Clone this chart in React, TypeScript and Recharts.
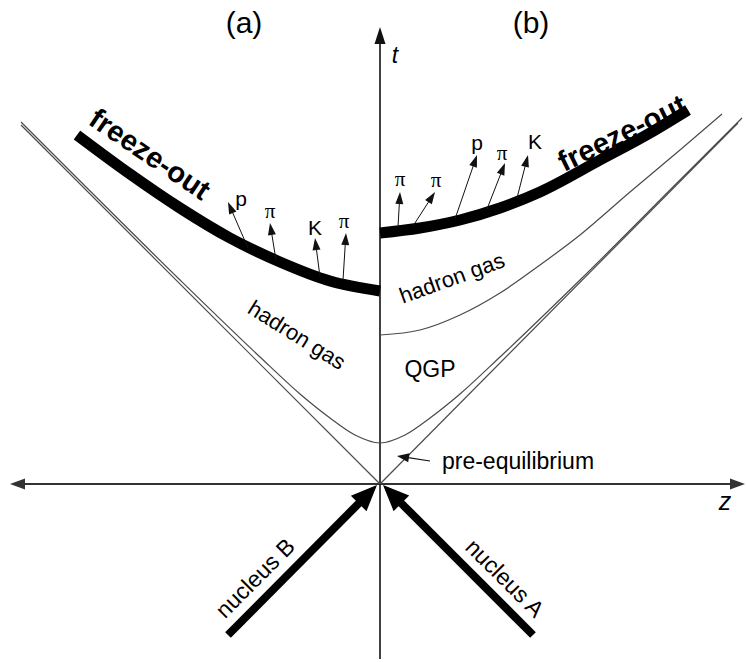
import React from "react";
import { LineChart, Line, XAxis, YAxis, ReferenceLine, ReferenceDot } from "recharts";

// space-time coordinates: z along the beam, t upward, collision at the origin

const lightConeA = [
  { z: -359, t: 359 },
  { z: 0, t: 0 },
];
const lightConeB = [
  { z: 0, t: 0 },
  { z: 358, t: 361 },
];

// proper time tau0 (end of pre-equilibrium)
const formationCurve = [
  { z: -359, t: 362 },
  { z: -300, t: 303 },
  { z: -200, t: 204 },
  { z: -120, t: 127 },
  { z: -80, t: 90 },
  { z: -50, t: 66 },
  { z: -25, t: 49 },
  { z: 0, t: 41 },
  { z: 25, t: 49 },
  { z: 50, t: 66 },
  { z: 80, t: 90 },
  { z: 120, t: 127 },
  { z: 200, t: 204 },
  { z: 300, t: 304 },
  { z: 362, t: 366 },
];

// QGP -> hadron gas boundary, panel (b)
const hadronizationB = [
  { z: 0, t: 149 },
  { z: 40, t: 154 },
  { z: 80, t: 169 },
  { z: 120, t: 191 },
  { z: 160, t: 219 },
  { z: 200, t: 249 },
  { z: 250, t: 292 },
  { z: 300, t: 334 },
  { z: 342, t: 370 },
];

const freezeOutA = [
  { z: -303, t: 349 },
  { z: -250, t: 310 },
  { z: -200, t: 276 },
  { z: -150, t: 246 },
  { z: -100, t: 222 },
  { z: -50, t: 203 },
  { z: 0, t: 193 },
];

const freezeOutB = [
  { z: 0, t: 251 },
  { z: 40, t: 256 },
  { z: 80, t: 264 },
  { z: 120, t: 276 },
  { z: 160, t: 292 },
  { z: 220, t: 324 },
  { z: 270, t: 351 },
  { z: 308, t: 374 },
];

// emitted hadrons: start on the freeze-out curve, tip, label spot
const particlesA = [
  { name: "p", from: [-132, 236], to: [-152, 282], at: [-139, 286] },
  { name: "π", from: [-104, 224], to: [-110, 261], at: [-110, 273] },
  { name: "K", from: [-60, 207], to: [-65, 246], at: [-65, 257] },
  { name: "π", from: [-37, 204], to: [-34, 251], at: [-36, 263] },
];
const particlesB = [
  { name: "π", from: [18, 257], to: [20, 292], at: [20, 305] },
  { name: "π", from: [33, 258], to: [55, 292], at: [56, 304] },
  { name: "p", from: [75, 265], to: [97, 329], at: [97, 342] },
  { name: "π", from: [107, 275], to: [125, 321], at: [122, 331] },
  { name: "K", from: [137, 286], to: [148, 329], at: [155, 343] },
];

const nuclei = [
  { name: "nucleus B", from: [-152, -151], to: [-3, -1] },
  { name: "nucleus A", from: [153, -151], to: [3, -1] },
];

const sans = "'Liberation Sans', Arial, Helvetica, sans-serif";
const serif = "'Liberation Serif', 'Times New Roman', serif";
const thin = "#4a4a4a";

const headPoints = (tx: number, ty: number, ux: number, uy: number, head: number, w: number) => {
  const bx = tx - ux * head;
  const by = ty - uy * head;
  return `${tx},${ty} ${bx - (uy * w) / 2},${by + (ux * w) / 2} ${bx + (uy * w) / 2},${by - (ux * w) / 2}`;
};

// line segment with a filled arrow head at the end (or both ends)
const arrowShape =
  (head: number, w: number, lineW: number, color: string, both = false) =>
  (p: any) => {
    const { x1, y1, x2, y2 } = p;
    const len = Math.hypot(x2 - x1, y2 - y1) || 1;
    const ux = (x2 - x1) / len;
    const uy = (y2 - y1) / len;
    const sx = both ? x1 + ux * head * 0.8 : x1;
    const sy = both ? y1 + uy * head * 0.8 : y1;
    return (
      <g>
        <line x1={sx} y1={sy} x2={x2 - ux * head * 0.8} y2={y2 - uy * head * 0.8} stroke={color} strokeWidth={lineW} />
        <polygon points={headPoints(x2, y2, ux, uy, head, w)} fill={color} />
        {both && <polygon points={headPoints(x1, y1, -ux, -uy, head, w)} fill={color} />}
      </g>
    );
  };

const textShape =
  (text: string, size: number, opts: { angle?: number; weight?: string; italic?: boolean; family?: string } = {}) =>
  (p: any) => (
    <text
      x={p.cx}
      y={p.cy}
      textAnchor="middle"
      dominantBaseline="central"
      transform={opts.angle ? `rotate(${opts.angle} ${p.cx} ${p.cy})` : undefined}
      fontFamily={opts.family || sans}
      fontSize={size}
      fontWeight={opts.weight || "normal"}
      fontStyle={opts.italic ? "italic" : "normal"}
      fill="#000"
    >
      {text}
    </text>
  );

const labels = [
  { z: -136, t: 462, text: "(a)", size: 30 },
  { z: 151, t: 462, text: "(b)", size: 30 },
  { z: 15, t: 429, text: "t", size: 23, italic: true },
  { z: 345, t: -17, text: "z", size: 25, italic: true },
  { z: -230, t: 330, text: "freeze-out", size: 29, angle: 34, weight: "bold" },
  { z: 242, t: 351, text: "freeze-out", size: 29, angle: -26, weight: "bold" },
  { z: -83, t: 149, text: "hadron gas", size: 22, angle: 32 },
  { z: 72, t: 206, text: "hadron gas", size: 22, angle: -20 },
  { z: 50, t: 115, text: "QGP", size: 23 },
  { z: 138, t: 23, text: "pre-equilibrium", size: 23 },
  { z: -125, t: -94, text: "nucleus B", size: 23, angle: -45 },
  { z: 125, t: -94, text: "nucleus A", size: 23, angle: 45 },
];

const particleLabel = (name: string) =>
  name === "π" ? textShape(name, 21, { family: serif }) : textShape(name, 21);

const curve = (data: { z: number; t: number }[], stroke: string, width: number) => (
  <Line
    data={data}
    type="monotone"
    dataKey="t"
    stroke={stroke}
    strokeWidth={width}
    dot={false}
    activeDot={false}
    isAnimationActive={false}
  />
);

export default function App() {
  const particles = [...particlesA, ...particlesB];
  return (
    <div style={{ position: "absolute", left: 0, top: 0, background: "#fff" }}>
      <LineChart width={746} height={662} margin={{ top: 0, right: 0, bottom: 0, left: 0 }}>
        <XAxis type="number" dataKey="z" domain={[-380, 366]} hide allowDataOverflow />
        <YAxis type="number" domain={[-178, 484]} hide allowDataOverflow />

        {/* axes */}
        <ReferenceLine
          segment={[{ x: -370, y: 0 }, { x: 365, y: 0 }]}
          shape={arrowShape(15, 11, 2.2, "#333", true)}
          ifOverflow="visible"
        />
        <ReferenceLine
          segment={[{ x: 0, y: -175 }, { x: 0, y: 457 }]}
          shape={arrowShape(17, 11, 1.6, "#111")}
          ifOverflow="visible"
        />

        {curve(lightConeA, thin, 1.2)}
        {curve(lightConeB, thin, 1.2)}
        {curve(formationCurve, thin, 1.2)}
        {curve(hadronizationB, thin, 1.2)}
        {curve(freezeOutA, "#000", 11)}
        {curve(freezeOutB, "#000", 11)}

        {particles.map((d, i) => (
          <ReferenceLine
            key={`pa${i}`}
            segment={[{ x: d.from[0], y: d.from[1] }, { x: d.to[0], y: d.to[1] }]}
            shape={arrowShape(12, 8, 1, "#111")}
            ifOverflow="visible"
          />
        ))}
        {particles.map((d, i) => (
          <ReferenceDot key={`pl${i}`} x={d.at[0]} y={d.at[1]} r={0} shape={particleLabel(d.name)} ifOverflow="visible" />
        ))}

        {nuclei.map((d) => (
          <ReferenceLine
            key={d.name}
            segment={[{ x: d.from[0], y: d.from[1] }, { x: d.to[0], y: d.to[1] }]}
            shape={arrowShape(26, 22, 8, "#000")}
            ifOverflow="visible"
          />
        ))}

        {/* pointer to the pre-equilibrium region */}
        <ReferenceLine
          segment={[{ x: 50, y: 23 }, { x: 17, y: 28 }]}
          shape={arrowShape(12, 9, 1.2, "#111")}
          ifOverflow="visible"
        />

        {labels.map((l, i) => (
          <ReferenceDot
            key={`lb${i}`}
            x={l.z}
            y={l.t}
            r={0}
            ifOverflow="visible"
            shape={textShape(l.text, l.size, { angle: l.angle, weight: l.weight, italic: l.italic })}
          />
        ))}
      </LineChart>
    </div>
  );
}
